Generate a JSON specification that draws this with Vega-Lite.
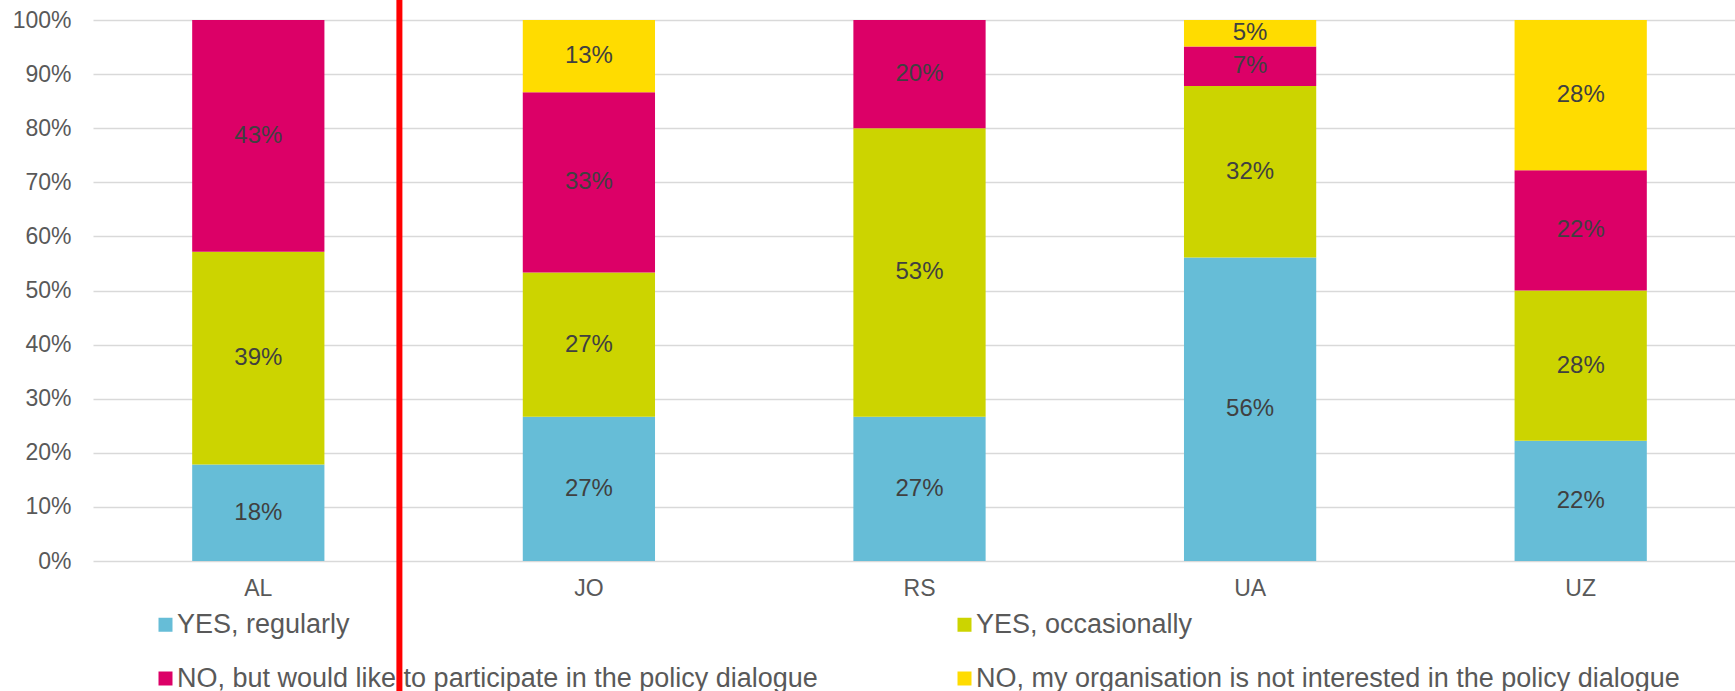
{
  "$schema": "https://vega.github.io/schema/vega-lite/v6.json",
  "width": 1642,
  "height": 541,
  "autosize": {"type": "none"},
  "padding": {"left": 93, "top": 20, "right": 0, "bottom": 130},
  "background": "white",
  "config": {
    "view": {"stroke": null},
    "font": "Liberation Sans",
    "axisX": {"title": null, "labelAngle": 0, "ticks": false, "domain": false, "labelFontSize": 23, "labelColor": "#595959", "labelPadding": 16, "labelFont": "Liberation Sans", "grid": false},
    "axisY": {"title": null, "format": ".0%", "values": [0, 0.1, 0.2, 0.3, 0.4, 0.5, 0.6, 0.7, 0.8, 0.9, 1], "labelOverlap": false, "ticks": false, "domain": false, "labelFontSize": 23, "labelColor": "#595959", "labelPadding": 22, "gridColor": "#d9d9d9", "gridWidth": 1.5, "labelFont": "Liberation Sans"}
  },
  "datasets": {
    "shares": [
      {"country": "AL", "answer": "YES, regularly", "rank": 1, "share": 0.178571},
      {"country": "AL", "answer": "YES, occasionally", "rank": 2, "share": 0.392857},
      {"country": "AL", "answer": "NO, but would like to participate in the policy dialogue", "rank": 3, "share": 0.428572},
      {"country": "JO", "answer": "YES, regularly", "rank": 1, "share": 0.266667},
      {"country": "JO", "answer": "YES, occasionally", "rank": 2, "share": 0.266667},
      {"country": "JO", "answer": "NO, but would like to participate in the policy dialogue", "rank": 3, "share": 0.333333},
      {"country": "JO", "answer": "NO, my organisation is not interested in the policy dialogue", "rank": 4, "share": 0.133333},
      {"country": "RS", "answer": "YES, regularly", "rank": 1, "share": 0.266667},
      {"country": "RS", "answer": "YES, occasionally", "rank": 2, "share": 0.533333},
      {"country": "RS", "answer": "NO, but would like to participate in the policy dialogue", "rank": 3, "share": 0.2},
      {"country": "UA", "answer": "YES, regularly", "rank": 1, "share": 0.560976},
      {"country": "UA", "answer": "YES, occasionally", "rank": 2, "share": 0.317073},
      {"country": "UA", "answer": "NO, but would like to participate in the policy dialogue", "rank": 3, "share": 0.073171},
      {"country": "UA", "answer": "NO, my organisation is not interested in the policy dialogue", "rank": 4, "share": 0.04878},
      {"country": "UZ", "answer": "YES, regularly", "rank": 1, "share": 0.222222},
      {"country": "UZ", "answer": "YES, occasionally", "rank": 2, "share": 0.277778},
      {"country": "UZ", "answer": "NO, but would like to participate in the policy dialogue", "rank": 3, "share": 0.222222},
      {"country": "UZ", "answer": "NO, my organisation is not interested in the policy dialogue", "rank": 4, "share": 0.277778}
    ],
    "divider": [{"country": "AL", "top": 1.04, "bottom": -0.25}]
  },
  "layer": [
    {
      "data": {"name": "shares"},
      "mark": {"type": "bar"},
      "encoding": {
        "x": {
          "field": "country", "type": "nominal",
          "scale": {"range": [0, 1653], "paddingInner": 0.6, "paddingOuter": 0.3}
        },
        "y": {
          "field": "share", "type": "quantitative", "stack": "zero",
          "scale": {"domain": [0, 1], "nice": false}
        },
        "order": {"field": "rank", "type": "quantitative", "sort": "ascending"},
        "color": {
          "field": "answer", "type": "nominal",
          "scale": {
            "domain": ["YES, regularly", "NO, but would like to participate in the policy dialogue", "YES, occasionally", "NO, my organisation is not interested in the policy dialogue"],
            "range": ["#66bdd7", "#dc0067", "#ccd400", "#ffdc00"]
          },
          "legend": {
            "title": null, "orient": "none", "legendX": 59, "legendY": 591,
            "columns": 2, "columnPadding": 133, "rowPadding": 26,
            "symbolType": "square", "symbolSize": 196, "symbolStrokeWidth": 0,
            "labelFontSize": 27, "labelColor": "#595959", "labelLimit": 1000, "labelOffset": -2, "labelFont": "Liberation Sans"
          }
        }
      }
    },
    {
      "data": {"name": "shares"},
      "mark": {"type": "text", "fontSize": 24, "color": "#404040", "font": "Liberation Sans", "baseline": "middle"},
      "encoding": {
        "x": {"field": "country", "type": "nominal"},
        "y": {"field": "share", "type": "quantitative", "stack": "zero", "bandPosition": 0.5},
        "detail": {"field": "answer", "type": "nominal"},
        "order": {"field": "rank", "type": "quantitative", "sort": "ascending"},
        "text": {"field": "share", "type": "quantitative", "format": ".0%"}
      }
    },
    {
      "data": {"name": "divider"},
      "mark": {"type": "rule", "color": "#ff0000", "strokeWidth": 6},
      "encoding": {
        "x": {"field": "country", "type": "nominal", "bandPosition": 1.567},
        "y": {"field": "top", "type": "quantitative"},
        "y2": {"field": "bottom"}
      }
    }
  ]
}
